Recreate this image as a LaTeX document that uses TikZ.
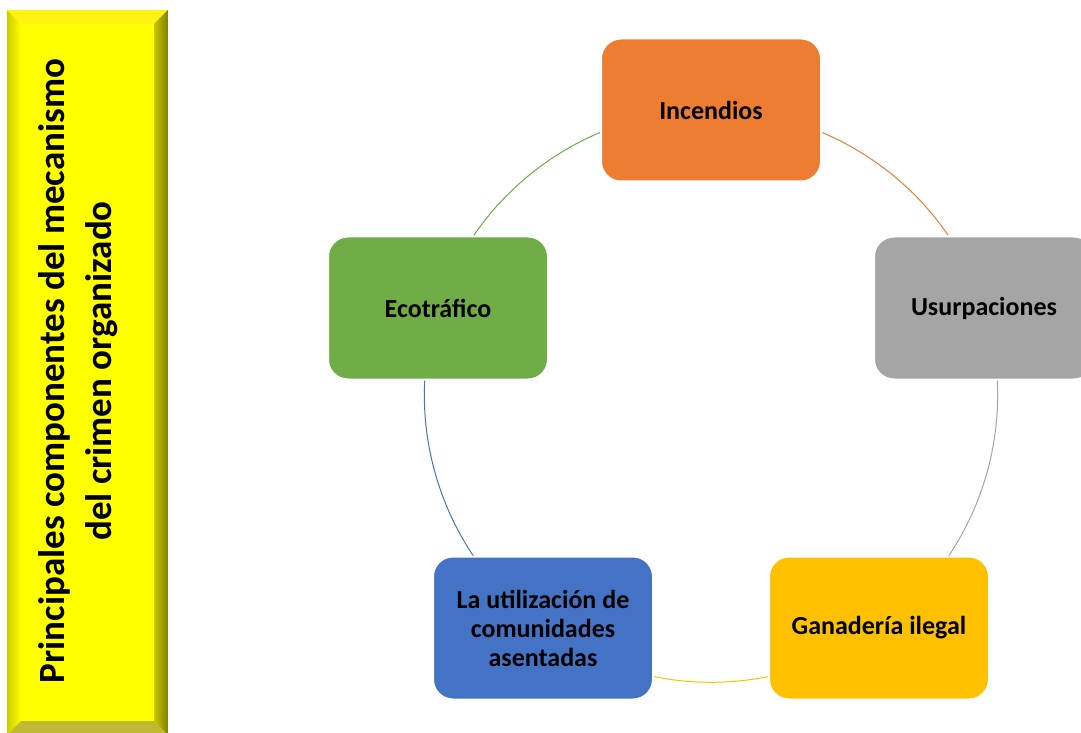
\documentclass[tikz,border=0pt]{standalone}
\usepackage{fontspec}
\setmainfont{Carlito}
\usetikzlibrary{backgrounds}
\definecolor{incorange}{HTML}{ED7D31}
\definecolor{usugray}{HTML}{A5A5A5}
\definecolor{ganagold}{HTML}{FFC000}
\definecolor{utilblue}{HTML}{4472C4}
\definecolor{ecogreen}{HTML}{70AD47}
\definecolor{bevyellow}{HTML}{FFFF00}
\tikzset{
  comp/.style={rounded corners=20, minimum width=220, minimum height=143, draw=white,
    line width=2, align=center, font=\fontsize{26}{29}\selectfont\bfseries},
  ring/.style={line width=1, bend left=36, looseness=0.94}
}
\begin{document}
\begin{tikzpicture}[x=1pt, y=1pt]
\useasboundingbox (0,0) rectangle (1081,732);
\fill[bevyellow] (7,-3) rectangle (168,722);
\shade[left color=yellow!80!black, right color=bevyellow] (7,-3)--(21,11)--(21,708)--(7,722)--cycle;
\fill[yellow!92!white] (7,722)--(21,708)--(154,708)--(168,722)--cycle;
\shade[left color=yellow!78!black, right color=yellow!50!black] (168,722)--(154,708)--(154,11)--(168,-3)--cycle;
\fill[yellow!72!black] (7,-3)--(21,11)--(154,11)--(168,-3)--cycle;
\node[rotate=90, align=center, font=\fontsize{37}{47}\selectfont\bfseries] (title) at (78,361)
  {Principales componentes del mecanismo\\del crimen organizado};

\node[comp, fill=incorange] (inc) at (711,622) {Incendios};
\node[comp, fill=usugray] (usu) at (984,424) {Usurpaciones};
\node[comp, fill=ganagold] (gan) at (879,104) {Ganadería ilegal};
\node[comp, fill=utilblue] (uti) at (543,104) {La utilización de\\comunidades\\asentadas};
\node[comp, fill=ecogreen] (eco) at (438,424) {Ecotráfico};

\begin{pgfonlayer}{background}
\draw[ring, incorange] (inc.center) to (usu.center);
\draw[ring, usugray] (usu.center) to (gan.center);
\draw[ring, ganagold] (gan.center) to (uti.center);
\draw[ring, utilblue] (uti.center) to (eco.center);
\draw[ring, ecogreen] (eco.center) to (inc.center);
\end{pgfonlayer}
\end{tikzpicture}
\end{document}
